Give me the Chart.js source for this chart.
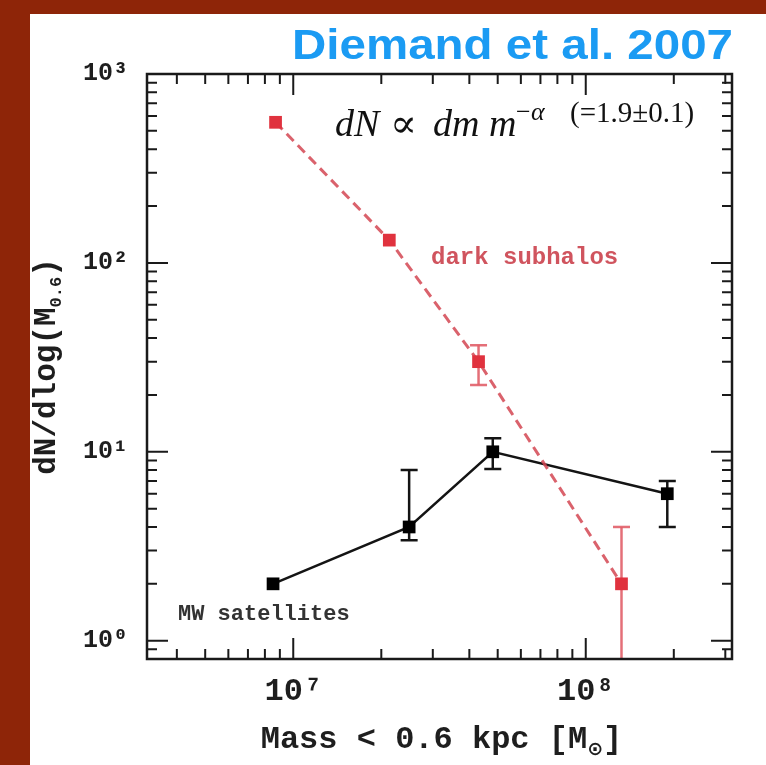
<!DOCTYPE html>
<html>
<head>
<meta charset="utf-8">
<script src="https://cdn.jsdelivr.net/npm/chart.js@4/dist/chart.umd.min.js"></script>
<style>
  html, body { margin: 0; padding: 0; background: #8e2508; }
  #wrap { width: 766px; height: 765px; position: relative; }
</style>
</head>
<body>
<div id="wrap"><canvas id="c"></canvas></div>
<script>
// Subhalo mass function vs. Milky Way satellites
const subhaloMass = [8.7e6, 2.13e7, 4.3e7, 1.325e8];
const subhaloCount = [555, 132, 30, 2];
const subhaloErrLow = [null, null, 22.6, 0];
const subhaloErrHigh = [null, null, 36.7, 4];

const satelliteMass = [8.53e6, 2.49e7, 4.81e7, 1.9e8];
const satelliteCount = [2, 4, 10, 6];
const satelliteErrLow = [null, 3.4, 8.1, 4];
const satelliteErrHigh = [null, 8, 11.8, 7];

const xTickValues = [1e7, 1e8];
const xTickLabels = ['10\u2077', '10\u2078'];
const yTickValues = [1, 10, 100, 1000];
const yTickLabels = ['10\u2070', '10\u00b9', '10\u00b2', '10\u00b3'];

const xMin = Math.pow(10, 6.5), xMax = Math.pow(10, 8.5);
const yMin = 0.8, yMax = 1000;

const MONO = '"Liberation Mono", "DejaVu Sans Mono", monospace';
const SERIF = '"Liberation Serif", "DejaVu Serif", serif';

const toPoints = (xs, ys) => xs.map((x, i) => ({ x: x, y: ys[i] }));

// page background and white panel
const panelPlugin = {
  id: 'panel',
  beforeDraw(chart) {
    const ctx = chart.ctx;
    ctx.save();
    ctx.fillStyle = '#8e2508';
    ctx.fillRect(0, 0, chart.width, chart.height);
    ctx.fillStyle = '#ffffff';
    ctx.fillRect(30, 14, chart.width - 30, chart.height - 14);
    ctx.restore();
  }
};

// vertical error bars with caps
const errorBarPlugin = {
  id: 'errorBars',
  beforeDatasetsDraw(chart) {
    const ctx = chart.ctx;
    const xs = chart.scales.x, ys = chart.scales.y;
    const area = chart.chartArea;
    ctx.save();
    ctx.beginPath();
    ctx.rect(area.left, area.top, area.right - area.left, area.bottom - area.top);
    ctx.clip();
    chart.data.datasets.forEach(ds => {
      const lo = ds.errLow, hi = ds.errHigh;
      if (!lo) return;
      ctx.strokeStyle = ds.errColor;
      ctx.lineWidth = 2.5;
      ds.data.forEach((p, i) => {
        if (lo[i] == null) return;
        const px = xs.getPixelForValue(p.x);
        const yLo = lo[i] > 0 ? ys.getPixelForValue(lo[i]) : area.bottom + 5;
        const yHi = ys.getPixelForValue(hi[i]);
        ctx.beginPath();
        ctx.moveTo(px, yLo);
        ctx.lineTo(px, yHi);
        ctx.stroke();
        const cap = 8.5;
        ctx.beginPath();
        ctx.moveTo(px - cap, yHi);
        ctx.lineTo(px + cap, yHi);
        if (lo[i] > 0) {
          ctx.moveTo(px - cap, yLo);
          ctx.lineTo(px + cap, yLo);
        }
        ctx.stroke();
      });
    });
    ctx.restore();
  }
};

// frame with inward major and minor ticks on all four sides
const framePlugin = {
  id: 'frame',
  afterDatasetsDraw(chart) {
    const ctx = chart.ctx;
    const xs = chart.scales.x, ys = chart.scales.y;
    const a = chart.chartArea;
    const major = 21, minor = 10;
    ctx.save();
    ctx.strokeStyle = '#1a1a1a';
    ctx.lineWidth = 2;
    ctx.beginPath();
    for (let e = 6; e <= 8; e++) {
      for (let m = 1; m <= 9; m++) {
        const v = m * Math.pow(10, e);
        if (v < xMin || v > xMax) continue;
        const px = xs.getPixelForValue(v);
        const len = m === 1 ? major : minor;
        ctx.moveTo(px, a.bottom); ctx.lineTo(px, a.bottom - len);
        ctx.moveTo(px, a.top); ctx.lineTo(px, a.top + len);
      }
    }
    for (let e = -1; e <= 3; e++) {
      for (let m = 1; m <= 9; m++) {
        const v = m * Math.pow(10, e);
        if (v < yMin - 1e-9 || v > yMax + 1e-9) continue;
        const py = ys.getPixelForValue(v);
        const len = m === 1 ? major : minor;
        ctx.moveTo(a.left, py); ctx.lineTo(a.left + len, py);
        ctx.moveTo(a.right, py); ctx.lineTo(a.right - len, py);
      }
    }
    ctx.stroke();
    ctx.lineWidth = 2.5;
    ctx.strokeRect(a.left, a.top, a.right - a.left, a.bottom - a.top);
    ctx.restore();
  }
};

// titles, axis titles and annotations
const textPlugin = {
  id: 'texts',
  afterDraw(chart) {
    const ctx = chart.ctx;
    const a = chart.chartArea;
    ctx.save();

    // heading, right-aligned at the top of the panel
    ctx.fillStyle = '#1b9bf3';
    ctx.font = 'bold 42px "Liberation Sans", Arial, sans-serif';
    ctx.textBaseline = 'alphabetic';
    const head = 'Diemand et al. 2007';
    const hw = ctx.measureText(head).width;
    const sx = 441 / hw;
    ctx.save();
    ctx.translate(733, 59);
    ctx.scale(sx, 1);
    ctx.textAlign = 'right';
    ctx.fillText(head, 0, 0);
    ctx.restore();

    ctx.textAlign = 'left';
    ctx.fillStyle = '#1e1e1e';

    // x-axis title: Mass < 0.6 kpc [M_sun]
    const xf = 32;
    ctx.font = 'bold ' + xf + 'px ' + MONO;
    const p1 = 'Mass < 0.6 kpc [M';
    const w1 = ctx.measureText(p1).width;
    ctx.font = 'bold ' + Math.round(xf * 0.6) + 'px "DejaVu Sans", sans-serif';
    const sun = '\u2299';
    const w2 = ctx.measureText(sun).width;
    ctx.font = 'bold ' + xf + 'px ' + MONO;
    const w3 = ctx.measureText(']').width;
    const total = w1 + w2 + w3;
    let x0 = (a.left + a.right) / 2 - total / 2 + 2;
    const by = 748;
    ctx.fillText(p1, x0, by);
    ctx.font = 'bold ' + Math.round(xf * 0.6) + 'px "DejaVu Sans", sans-serif';
    ctx.fillText(sun, x0 + w1, by + 7);
    ctx.font = 'bold ' + xf + 'px ' + MONO;
    ctx.fillText(']', x0 + w1 + w2, by);

    // y-axis title: dN/dlog(M_0.6)
    const yf = 31;
    ctx.save();
    ctx.translate(55, (a.top + a.bottom) / 2);
    ctx.rotate(-Math.PI / 2);
    ctx.font = 'bold ' + yf + 'px ' + MONO;
    const q1 = 'dN/dlog(M';
    const qw1 = ctx.measureText(q1).width;
    ctx.font = 'bold ' + Math.round(yf * 0.55) + 'px ' + MONO;
    const q2 = '0.6';
    const qw2 = ctx.measureText(q2).width;
    ctx.font = 'bold ' + yf + 'px ' + MONO;
    const qw3 = ctx.measureText(')').width;
    let yx = -(qw1 + qw2 + qw3) / 2;
    ctx.fillText(q1, yx, 0);
    ctx.font = 'bold ' + Math.round(yf * 0.55) + 'px ' + MONO;
    ctx.fillText(q2, yx + qw1, 6);
    ctx.font = 'bold ' + yf + 'px ' + MONO;
    ctx.fillText(')', yx + qw1 + qw2, 0);
    ctx.restore();

    // series labels
    ctx.font = 'bold 24px ' + MONO;
    ctx.fillStyle = 'rgba(205,75,85,0.95)';
    ctx.fillText('dark subhalos', 431, 264);
    ctx.font = 'bold 22px ' + MONO;
    ctx.fillStyle = '#333333';
    ctx.fillText('MW satellites', 178, 620);

    // power-law annotation
    ctx.fillStyle = '#111111';
    ctx.font = 'italic 38px ' + SERIF;
    ctx.fillText('dN', 335, 136);
    ctx.font = '40px ' + SERIF;
    ctx.fillText('\u221d', 390, 137);
    ctx.font = 'italic 38px ' + SERIF;
    ctx.fillText('dm', 433, 136);
    ctx.fillText('m', 489, 136);
    ctx.font = '26px ' + SERIF;
    ctx.fillText('\u2212', 516, 120);
    ctx.font = 'italic 26px ' + SERIF;
    ctx.fillText('\u03b1', 531, 120);
    ctx.font = '29px ' + SERIF;
    ctx.fillText('(=1.9\u00b10.1)', 570, 122);

    ctx.restore();
  }
};

const ctx = document.getElementById('c');
new Chart(ctx, {
  type: 'line',
  data: {
    datasets: [
      {
        label: 'dark subhalos',
        data: toPoints(subhaloMass, subhaloCount),
        errLow: subhaloErrLow,
        errHigh: subhaloErrHigh,
        errColor: 'rgba(225,95,105,0.9)',
        borderColor: 'rgba(212,70,82,0.85)',
        borderWidth: 3,
        borderDash: [10, 6],
        pointStyle: 'rect',
        pointRadius: 9,
        pointBorderWidth: 0,
        pointBackgroundColor: '#e0323e',
        tension: 0
      },
      {
        label: 'MW satellites',
        data: toPoints(satelliteMass, satelliteCount),
        errLow: satelliteErrLow,
        errHigh: satelliteErrHigh,
        errColor: '#141414',
        borderColor: '#141414',
        borderWidth: 2.5,
        pointStyle: 'rect',
        pointRadius: 9,
        pointBorderWidth: 0,
        pointBackgroundColor: '#000000',
        tension: 0
      }
    ]
  },
  options: {
    responsive: true,
    maintainAspectRatio: false,
    animation: false,
    layout: { padding: { left: 30, top: 74, right: 34, bottom: 0 } },
    plugins: { legend: { display: false }, tooltip: { enabled: false } },
    scales: {
      x: {
        type: 'logarithmic',
        min: xMin,
        max: xMax,
        afterBuildTicks: s => { s.ticks = xTickValues.map(v => ({ value: v })); },
        afterFit: s => { s.height = 106; },
        ticks: {
          callback: (v, i) => xTickLabels[i],
          font: { family: MONO, size: 32, weight: 'bold' },
          color: '#1e1e1e',
          padding: 14,
          maxRotation: 0,
          autoSkip: false
        },
        grid: { display: false, drawTicks: false },
        border: { display: false }
      },
      y: {
        type: 'logarithmic',
        min: yMin,
        max: yMax,
        afterBuildTicks: s => { s.ticks = yTickValues.map(v => ({ value: v })); },
        afterFit: s => { s.width = 117; },
        ticks: {
          callback: (v, i) => yTickLabels[i],
          font: { family: MONO, size: 25, weight: 'bold' },
          color: '#1e1e1e',
          padding: 19,
          autoSkip: false
        },
        grid: { display: false, drawTicks: false },
        border: { display: false }
      }
    }
  },
  plugins: [panelPlugin, errorBarPlugin, framePlugin, textPlugin]
});
</script>
</body>
</html>
